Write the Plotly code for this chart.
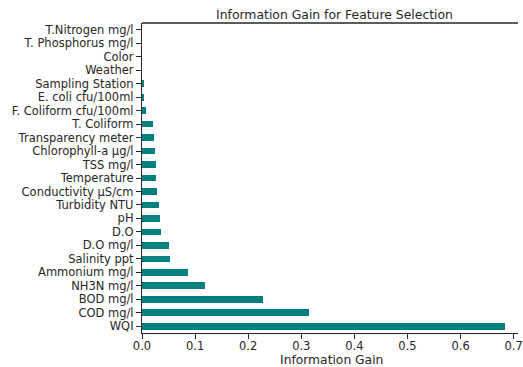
import plotly.graph_objects as go

features = ["WQI", "COD mg/l", "BOD mg/l", "NH3N mg/l", "Ammonium mg/l", "Salinity ppt",
            "D.O mg/l", "D.O", "pH", "Turbidity NTU", "Conductivity µS/cm", "Temperature",
            "TSS mg/l", "Chlorophyll-a µg/l", "Transparency meter", "T. Coliform",
            "F. Coliform cfu/100ml", "E. coli cfu/100ml", "Sampling Station", "Weather",
            "Color", "T. Phosphorus mg/l", "T.Nitrogen mg/l"]
gains = [0.684, 0.314, 0.227, 0.119, 0.0874, 0.0533,
         0.0508, 0.0366, 0.034, 0.032, 0.0279, 0.0266,
         0.026, 0.0248, 0.0217, 0.0204,
         0.0068, 0.0043, 0.003, 0.0,
         0.0, 0.0, 0.0]
xticks = [0.0, 0.1, 0.2, 0.3, 0.4, 0.5, 0.6, 0.7]
xticklabels = ["0.0", "0.1", "0.2", "0.3", "0.4", "0.5", "0.6", "0.7"]

FONT = "DejaVu Sans"
TXT = "#262626"
L = 142

fig = go.Figure(go.Bar(
    x=gains, y=list(range(len(features))), orientation="h",
    width=0.5, marker=dict(color="#008080", line=dict(width=0)),
))
fig.update_layout(
    width=523, height=367,
    margin=dict(l=L, r=0, t=23, b=34),
    plot_bgcolor="white", paper_bgcolor="white",
    font=dict(family=FONT, size=11.5, color=TXT),
    showlegend=False,
    title=dict(text="Information Gain for Feature Selection", x=334.5 / 523, xanchor="center",
               y=1 - 15 / 367, yanchor="middle", font=dict(size=12.4, color=TXT)),
    bargap=0,
)
fig.update_xaxes(
    range=[0, (523 - L) / 538], tickvals=xticks, ticktext=xticklabels,
    showline=True, linecolor=TXT, linewidth=1.3, mirror=False,
    ticks="outside", ticklen=5, tickwidth=1.2, tickcolor=TXT,
    showgrid=False, zeroline=False, ticklabeloverflow="allow",
    ticklabelstandoff=-3,
    tickfont=dict(size=11.5),
)
fig.update_yaxes(
    range=[-0.5, len(features) - 0.5],
    tickvals=list(range(len(features))), ticktext=features,
    showline=True, linecolor=TXT, linewidth=1.3,
    ticks="outside", ticklen=5, tickwidth=1.2, tickcolor=TXT,
    showgrid=False, zeroline=False, tickfont=dict(size=11.5),
)
# top spine
fig.add_shape(type="line", xref="paper", yref="paper", x0=0, x1=1, y0=1, y1=1,
              line=dict(color=TXT, width=1.3))
# x-axis title
fig.add_annotation(text="Information Gain", xref="paper", yref="paper",
                   x=(334.5 - L) / (523 - L), y=-(360 - 333) / (367 - 23 - 34),
                   xanchor="center", yanchor="middle", showarrow=False, borderpad=0,
                   font=dict(size=12.3, color=TXT))
fig.write_html("out.html")
